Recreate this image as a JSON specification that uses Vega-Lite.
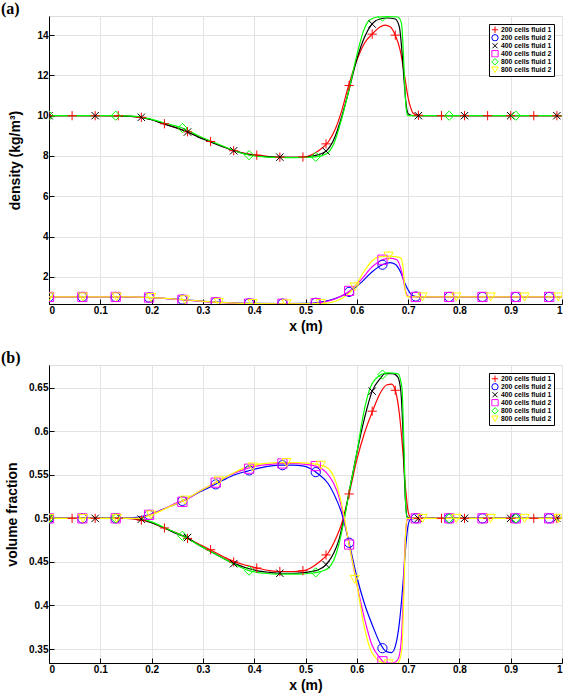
{
"$schema": "https://vega.github.io/schema/vega-lite/v6.json",
"background": "white",
"padding": {"left": 0, "top": 0, "right": 1, "bottom": 0},
"spacing": 61,
"bounds": "flush",
"config": {
 "axis": {"labelFont": "Liberation Sans", "labelFontWeight": "bold", "labelFontSize": 10, "labelColor": "black", "titleFont": "Liberation Sans", "titleFontWeight": "bold", "titleFontSize": 14, "titleColor": "black", "domainColor": "black", "tickColor": "black", "tickSize": -5, "gridColor": "#e3e3e3", "labelPadding": 6},
 "axisX": {"titlePadding": 4},
 "view": {"stroke": "#dddddd"},
 "legend": {"orient": "top-right", "offset": 8, "strokeColor": "black", "fillColor": "white", "padding": 2, "labelFont": "Liberation Sans", "labelFontWeight": "bold", "labelFontSize": 6.8, "labelColor": "black", "symbolSize": 40, "symbolStrokeWidth": 1, "rowPadding": 0, "clipHeight": 7.5, "labelOffset": 2, "cornerRadius": 0},
 "title": {"anchor": "start", "frame": "group", "font": "Liberation Serif", "fontSize": 16, "fontWeight": "bold", "color": "black", "offset": -1, "dx": -48}
},
"resolve": {"scale": {"color": "independent", "shape": "independent"}, "legend": {"color": "independent", "shape": "independent"}},
"datasets": {
"a": [
{"s":"200 cells fluid 1","k":"l","x":0,"y":10},{"s":"200 cells fluid 1","k":"l","x":0.1,"y":10},{"s":"200 cells fluid 1","k":"l","x":0.15,"y":9.98},{"s":"200 cells fluid 1","k":"l","x":0.18,"y":9.92},{"s":"200 cells fluid 1","k":"l","x":0.2,"y":9.8},{"s":"200 cells fluid 1","k":"l","x":0.225,"y":9.6},{"s":"200 cells fluid 1","k":"l","x":0.25,"y":9.38},{"s":"200 cells fluid 1","k":"l","x":0.27,"y":9.2},{"s":"200 cells fluid 1","k":"l","x":0.29,"y":8.98},{"s":"200 cells fluid 1","k":"l","x":0.315,"y":8.72},{"s":"200 cells fluid 1","k":"l","x":0.34,"y":8.46},{"s":"200 cells fluid 1","k":"l","x":0.36,"y":8.26},{"s":"200 cells fluid 1","k":"l","x":0.38,"y":8.14},{"s":"200 cells fluid 1","k":"l","x":0.405,"y":8.04},{"s":"200 cells fluid 1","k":"l","x":0.43,"y":7.97},{"s":"200 cells fluid 1","k":"l","x":0.45,"y":7.94},{"s":"200 cells fluid 1","k":"l","x":0.475,"y":7.93},{"s":"200 cells fluid 1","k":"l","x":0.497,"y":7.95},{"s":"200 cells fluid 1","k":"l","x":0.515,"y":8.1},{"s":"200 cells fluid 1","k":"l","x":0.53,"y":8.35},{"s":"200 cells fluid 1","k":"l","x":0.545,"y":8.72},{"s":"200 cells fluid 1","k":"l","x":0.56,"y":9.45},{"s":"200 cells fluid 1","k":"l","x":0.57,"y":10.2},{"s":"200 cells fluid 1","k":"l","x":0.583,"y":11.4},{"s":"200 cells fluid 1","k":"l","x":0.6,"y":12.75},{"s":"200 cells fluid 1","k":"l","x":0.615,"y":13.6},{"s":"200 cells fluid 1","k":"l","x":0.632,"y":14.1},{"s":"200 cells fluid 1","k":"l","x":0.645,"y":14.4},{"s":"200 cells fluid 1","k":"l","x":0.655,"y":14.5},{"s":"200 cells fluid 1","k":"l","x":0.665,"y":14.42},{"s":"200 cells fluid 1","k":"l","x":0.675,"y":14.0},{"s":"200 cells fluid 1","k":"l","x":0.685,"y":13.2},{"s":"200 cells fluid 1","k":"l","x":0.693,"y":12.0},{"s":"200 cells fluid 1","k":"l","x":0.7,"y":10.9},{"s":"200 cells fluid 1","k":"l","x":0.705,"y":10.4},{"s":"200 cells fluid 1","k":"l","x":0.71,"y":10.12},{"s":"200 cells fluid 1","k":"l","x":0.72,"y":10.02},{"s":"200 cells fluid 1","k":"l","x":0.74,"y":10},{"s":"200 cells fluid 1","k":"l","x":1,"y":10},
{"s":"400 cells fluid 1","k":"l","x":0,"y":10},{"s":"400 cells fluid 1","k":"l","x":0.12,"y":10},{"s":"400 cells fluid 1","k":"l","x":0.16,"y":9.97},{"s":"400 cells fluid 1","k":"l","x":0.18,"y":9.92},{"s":"400 cells fluid 1","k":"l","x":0.2,"y":9.8},{"s":"400 cells fluid 1","k":"l","x":0.225,"y":9.58},{"s":"400 cells fluid 1","k":"l","x":0.25,"y":9.38},{"s":"400 cells fluid 1","k":"l","x":0.27,"y":9.19},{"s":"400 cells fluid 1","k":"l","x":0.29,"y":8.95},{"s":"400 cells fluid 1","k":"l","x":0.315,"y":8.7},{"s":"400 cells fluid 1","k":"l","x":0.34,"y":8.45},{"s":"400 cells fluid 1","k":"l","x":0.362,"y":8.25},{"s":"400 cells fluid 1","k":"l","x":0.38,"y":8.12},{"s":"400 cells fluid 1","k":"l","x":0.405,"y":8.02},{"s":"400 cells fluid 1","k":"l","x":0.43,"y":7.96},{"s":"400 cells fluid 1","k":"l","x":0.45,"y":7.94},{"s":"400 cells fluid 1","k":"l","x":0.475,"y":7.93},{"s":"400 cells fluid 1","k":"l","x":0.5,"y":7.95},{"s":"400 cells fluid 1","k":"l","x":0.52,"y":8.03},{"s":"400 cells fluid 1","k":"l","x":0.54,"y":8.24},{"s":"400 cells fluid 1","k":"l","x":0.555,"y":8.8},{"s":"400 cells fluid 1","k":"l","x":0.57,"y":9.9},{"s":"400 cells fluid 1","k":"l","x":0.583,"y":11.1},{"s":"400 cells fluid 1","k":"l","x":0.6,"y":12.8},{"s":"400 cells fluid 1","k":"l","x":0.615,"y":13.9},{"s":"400 cells fluid 1","k":"l","x":0.628,"y":14.5},{"s":"400 cells fluid 1","k":"l","x":0.645,"y":14.8},{"s":"400 cells fluid 1","k":"l","x":0.66,"y":14.85},{"s":"400 cells fluid 1","k":"l","x":0.675,"y":14.8},{"s":"400 cells fluid 1","k":"l","x":0.683,"y":14.4},{"s":"400 cells fluid 1","k":"l","x":0.688,"y":13.2},{"s":"400 cells fluid 1","k":"l","x":0.692,"y":11.8},{"s":"400 cells fluid 1","k":"l","x":0.696,"y":10.6},{"s":"400 cells fluid 1","k":"l","x":0.7,"y":10.1},{"s":"400 cells fluid 1","k":"l","x":0.71,"y":10},{"s":"400 cells fluid 1","k":"l","x":1,"y":10},
{"s":"800 cells fluid 1","k":"l","x":0,"y":10},{"s":"800 cells fluid 1","k":"l","x":0.13,"y":10},{"s":"800 cells fluid 1","k":"l","x":0.17,"y":9.97},{"s":"800 cells fluid 1","k":"l","x":0.2,"y":9.82},{"s":"800 cells fluid 1","k":"l","x":0.23,"y":9.6},{"s":"800 cells fluid 1","k":"l","x":0.26,"y":9.39},{"s":"800 cells fluid 1","k":"l","x":0.29,"y":9.02},{"s":"800 cells fluid 1","k":"l","x":0.315,"y":8.74},{"s":"800 cells fluid 1","k":"l","x":0.34,"y":8.48},{"s":"800 cells fluid 1","k":"l","x":0.362,"y":8.26},{"s":"800 cells fluid 1","k":"l","x":0.389,"y":8.05},{"s":"800 cells fluid 1","k":"l","x":0.42,"y":7.96},{"s":"800 cells fluid 1","k":"l","x":0.45,"y":7.93},{"s":"800 cells fluid 1","k":"l","x":0.48,"y":7.92},{"s":"800 cells fluid 1","k":"l","x":0.52,"y":7.96},{"s":"800 cells fluid 1","k":"l","x":0.54,"y":8.1},{"s":"800 cells fluid 1","k":"l","x":0.555,"y":8.6},{"s":"800 cells fluid 1","k":"l","x":0.57,"y":9.8},{"s":"800 cells fluid 1","k":"l","x":0.583,"y":11.1},{"s":"800 cells fluid 1","k":"l","x":0.6,"y":13.0},{"s":"800 cells fluid 1","k":"l","x":0.613,"y":14.2},{"s":"800 cells fluid 1","k":"l","x":0.625,"y":14.75},{"s":"800 cells fluid 1","k":"l","x":0.64,"y":14.9},{"s":"800 cells fluid 1","k":"l","x":0.66,"y":14.92},{"s":"800 cells fluid 1","k":"l","x":0.68,"y":14.9},{"s":"800 cells fluid 1","k":"l","x":0.687,"y":14.6},{"s":"800 cells fluid 1","k":"l","x":0.691,"y":13.0},{"s":"800 cells fluid 1","k":"l","x":0.694,"y":11.2},{"s":"800 cells fluid 1","k":"l","x":0.697,"y":10.2},{"s":"800 cells fluid 1","k":"l","x":0.7,"y":10},{"s":"800 cells fluid 1","k":"l","x":1,"y":10},
{"s":"200 cells fluid 2","k":"l","x":0,"y":1},{"s":"200 cells fluid 2","k":"l","x":0.13,"y":1},{"s":"200 cells fluid 2","k":"l","x":0.2,"y":0.97},{"s":"200 cells fluid 2","k":"l","x":0.26,"y":0.87},{"s":"200 cells fluid 2","k":"l","x":0.325,"y":0.74},{"s":"200 cells fluid 2","k":"l","x":0.39,"y":0.68},{"s":"200 cells fluid 2","k":"l","x":0.455,"y":0.67},{"s":"200 cells fluid 2","k":"l","x":0.5,"y":0.68},{"s":"200 cells fluid 2","k":"l","x":0.52,"y":0.71},{"s":"200 cells fluid 2","k":"l","x":0.55,"y":0.86},{"s":"200 cells fluid 2","k":"l","x":0.585,"y":1.25},{"s":"200 cells fluid 2","k":"l","x":0.61,"y":1.75},{"s":"200 cells fluid 2","k":"l","x":0.63,"y":2.25},{"s":"200 cells fluid 2","k":"l","x":0.65,"y":2.6},{"s":"200 cells fluid 2","k":"l","x":0.665,"y":2.7},{"s":"200 cells fluid 2","k":"l","x":0.675,"y":2.62},{"s":"200 cells fluid 2","k":"l","x":0.685,"y":2.25},{"s":"200 cells fluid 2","k":"l","x":0.695,"y":1.6},{"s":"200 cells fluid 2","k":"l","x":0.705,"y":1.15},{"s":"200 cells fluid 2","k":"l","x":0.715,"y":1.02},{"s":"200 cells fluid 2","k":"l","x":0.73,"y":1},{"s":"200 cells fluid 2","k":"l","x":1,"y":1},
{"s":"400 cells fluid 2","k":"l","x":0,"y":1},{"s":"400 cells fluid 2","k":"l","x":0.15,"y":1},{"s":"400 cells fluid 2","k":"l","x":0.2,"y":0.97},{"s":"400 cells fluid 2","k":"l","x":0.26,"y":0.86},{"s":"400 cells fluid 2","k":"l","x":0.325,"y":0.73},{"s":"400 cells fluid 2","k":"l","x":0.39,"y":0.67},{"s":"400 cells fluid 2","k":"l","x":0.455,"y":0.66},{"s":"400 cells fluid 2","k":"l","x":0.51,"y":0.67},{"s":"400 cells fluid 2","k":"l","x":0.54,"y":0.76},{"s":"400 cells fluid 2","k":"l","x":0.57,"y":1.05},{"s":"400 cells fluid 2","k":"l","x":0.586,"y":1.3},{"s":"400 cells fluid 2","k":"l","x":0.61,"y":1.9},{"s":"400 cells fluid 2","k":"l","x":0.63,"y":2.5},{"s":"400 cells fluid 2","k":"l","x":0.65,"y":2.85},{"s":"400 cells fluid 2","k":"l","x":0.665,"y":2.93},{"s":"400 cells fluid 2","k":"l","x":0.678,"y":2.85},{"s":"400 cells fluid 2","k":"l","x":0.688,"y":2.2},{"s":"400 cells fluid 2","k":"l","x":0.695,"y":1.3},{"s":"400 cells fluid 2","k":"l","x":0.7,"y":1.03},{"s":"400 cells fluid 2","k":"l","x":0.71,"y":1},{"s":"400 cells fluid 2","k":"l","x":1,"y":1},
{"s":"800 cells fluid 2","k":"l","x":0,"y":1},{"s":"800 cells fluid 2","k":"l","x":0.16,"y":1},{"s":"800 cells fluid 2","k":"l","x":0.2,"y":0.97},{"s":"800 cells fluid 2","k":"l","x":0.265,"y":0.86},{"s":"800 cells fluid 2","k":"l","x":0.33,"y":0.73},{"s":"800 cells fluid 2","k":"l","x":0.397,"y":0.67},{"s":"800 cells fluid 2","k":"l","x":0.46,"y":0.66},{"s":"800 cells fluid 2","k":"l","x":0.53,"y":0.665},{"s":"800 cells fluid 2","k":"l","x":0.56,"y":0.8},{"s":"800 cells fluid 2","k":"l","x":0.596,"y":1.5},{"s":"800 cells fluid 2","k":"l","x":0.615,"y":2.3},{"s":"800 cells fluid 2","k":"l","x":0.63,"y":2.8},{"s":"800 cells fluid 2","k":"l","x":0.645,"y":3.0},{"s":"800 cells fluid 2","k":"l","x":0.665,"y":3.03},{"s":"800 cells fluid 2","k":"l","x":0.685,"y":2.95},{"s":"800 cells fluid 2","k":"l","x":0.69,"y":2.5},{"s":"800 cells fluid 2","k":"l","x":0.694,"y":1.4},{"s":"800 cells fluid 2","k":"l","x":0.698,"y":1.02},{"s":"800 cells fluid 2","k":"l","x":0.71,"y":1},{"s":"800 cells fluid 2","k":"l","x":1,"y":1},
{"s":"200 cells fluid 1","k":"m","x":0,"y":10},{"s":"200 cells fluid 1","k":"m","x":0.045,"y":10},{"s":"200 cells fluid 1","k":"m","x":0.09,"y":10},{"s":"200 cells fluid 1","k":"m","x":0.135,"y":10},{"s":"200 cells fluid 1","k":"m","x":0.18,"y":9.92},{"s":"200 cells fluid 1","k":"m","x":0.225,"y":9.6},{"s":"200 cells fluid 1","k":"m","x":0.27,"y":9.2},{"s":"200 cells fluid 1","k":"m","x":0.315,"y":8.72},{"s":"200 cells fluid 1","k":"m","x":0.36,"y":8.26},{"s":"200 cells fluid 1","k":"m","x":0.405,"y":8.04},{"s":"200 cells fluid 1","k":"m","x":0.45,"y":7.94},{"s":"200 cells fluid 1","k":"m","x":0.495,"y":7.95},{"s":"200 cells fluid 1","k":"m","x":0.54,"y":8.6},{"s":"200 cells fluid 1","k":"m","x":0.585,"y":11.5},{"s":"200 cells fluid 1","k":"m","x":0.63,"y":14.05},{"s":"200 cells fluid 1","k":"m","x":0.675,"y":14.0},{"s":"200 cells fluid 1","k":"m","x":0.72,"y":10.02},{"s":"200 cells fluid 1","k":"m","x":0.765,"y":10},{"s":"200 cells fluid 1","k":"m","x":0.81,"y":10},{"s":"200 cells fluid 1","k":"m","x":0.855,"y":10},{"s":"200 cells fluid 1","k":"m","x":0.9,"y":10},{"s":"200 cells fluid 1","k":"m","x":0.945,"y":10},{"s":"200 cells fluid 1","k":"m","x":0.99,"y":10},
{"s":"200 cells fluid 2","k":"m","x":0,"y":1},{"s":"200 cells fluid 2","k":"m","x":0.065,"y":1},{"s":"200 cells fluid 2","k":"m","x":0.13,"y":1},{"s":"200 cells fluid 2","k":"m","x":0.195,"y":0.97},{"s":"200 cells fluid 2","k":"m","x":0.26,"y":0.87},{"s":"200 cells fluid 2","k":"m","x":0.325,"y":0.74},{"s":"200 cells fluid 2","k":"m","x":0.39,"y":0.68},{"s":"200 cells fluid 2","k":"m","x":0.455,"y":0.67},{"s":"200 cells fluid 2","k":"m","x":0.52,"y":0.71},{"s":"200 cells fluid 2","k":"m","x":0.585,"y":1.25},{"s":"200 cells fluid 2","k":"m","x":0.65,"y":2.6},{"s":"200 cells fluid 2","k":"m","x":0.715,"y":1.02},{"s":"200 cells fluid 2","k":"m","x":0.78,"y":1},{"s":"200 cells fluid 2","k":"m","x":0.845,"y":1},{"s":"200 cells fluid 2","k":"m","x":0.91,"y":1},{"s":"200 cells fluid 2","k":"m","x":0.975,"y":1},
{"s":"400 cells fluid 1","k":"m","x":0,"y":10},{"s":"400 cells fluid 1","k":"m","x":0.09,"y":10},{"s":"400 cells fluid 1","k":"m","x":0.18,"y":9.92},{"s":"400 cells fluid 1","k":"m","x":0.27,"y":9.19},{"s":"400 cells fluid 1","k":"m","x":0.36,"y":8.26},{"s":"400 cells fluid 1","k":"m","x":0.45,"y":7.94},{"s":"400 cells fluid 1","k":"m","x":0.54,"y":8.24},{"s":"400 cells fluid 1","k":"m","x":0.63,"y":14.55},{"s":"400 cells fluid 1","k":"m","x":0.72,"y":10},{"s":"400 cells fluid 1","k":"m","x":0.81,"y":10},{"s":"400 cells fluid 1","k":"m","x":0.9,"y":10},{"s":"400 cells fluid 1","k":"m","x":0.99,"y":10},
{"s":"400 cells fluid 2","k":"m","x":0,"y":1},{"s":"400 cells fluid 2","k":"m","x":0.065,"y":1},{"s":"400 cells fluid 2","k":"m","x":0.13,"y":1},{"s":"400 cells fluid 2","k":"m","x":0.195,"y":0.97},{"s":"400 cells fluid 2","k":"m","x":0.26,"y":0.86},{"s":"400 cells fluid 2","k":"m","x":0.325,"y":0.73},{"s":"400 cells fluid 2","k":"m","x":0.39,"y":0.67},{"s":"400 cells fluid 2","k":"m","x":0.455,"y":0.66},{"s":"400 cells fluid 2","k":"m","x":0.52,"y":0.69},{"s":"400 cells fluid 2","k":"m","x":0.585,"y":1.3},{"s":"400 cells fluid 2","k":"m","x":0.65,"y":2.85},{"s":"400 cells fluid 2","k":"m","x":0.715,"y":1},{"s":"400 cells fluid 2","k":"m","x":0.78,"y":1},{"s":"400 cells fluid 2","k":"m","x":0.845,"y":1},{"s":"400 cells fluid 2","k":"m","x":0.91,"y":1},{"s":"400 cells fluid 2","k":"m","x":0.975,"y":1},
{"s":"800 cells fluid 1","k":"m","x":0,"y":10},{"s":"800 cells fluid 1","k":"m","x":0.13,"y":10},{"s":"800 cells fluid 1","k":"m","x":0.26,"y":9.39},{"s":"800 cells fluid 1","k":"m","x":0.39,"y":8.04},{"s":"800 cells fluid 1","k":"m","x":0.52,"y":7.96},{"s":"800 cells fluid 1","k":"m","x":0.65,"y":14.92},{"s":"800 cells fluid 1","k":"m","x":0.78,"y":10},{"s":"800 cells fluid 1","k":"m","x":0.91,"y":10},
{"s":"800 cells fluid 2","k":"m","x":0,"y":1},{"s":"800 cells fluid 2","k":"m","x":0.066,"y":1},{"s":"800 cells fluid 2","k":"m","x":0.132,"y":1},{"s":"800 cells fluid 2","k":"m","x":0.199,"y":0.97},{"s":"800 cells fluid 2","k":"m","x":0.265,"y":0.86},{"s":"800 cells fluid 2","k":"m","x":0.331,"y":0.73},{"s":"800 cells fluid 2","k":"m","x":0.397,"y":0.67},{"s":"800 cells fluid 2","k":"m","x":0.463,"y":0.66},{"s":"800 cells fluid 2","k":"m","x":0.53,"y":0.665},{"s":"800 cells fluid 2","k":"m","x":0.596,"y":1.5},{"s":"800 cells fluid 2","k":"m","x":0.662,"y":3.03},{"s":"800 cells fluid 2","k":"m","x":0.728,"y":1},{"s":"800 cells fluid 2","k":"m","x":0.794,"y":1},{"s":"800 cells fluid 2","k":"m","x":0.861,"y":1},{"s":"800 cells fluid 2","k":"m","x":0.927,"y":1},{"s":"800 cells fluid 2","k":"m","x":0.993,"y":1}
],
"b": [
{"s":"200 cells fluid 1","k":"l","x":0,"y":0.5},{"s":"200 cells fluid 1","k":"l","x":0.15,"y":0.5},{"s":"200 cells fluid 1","k":"l","x":0.18,"y":0.498},{"s":"200 cells fluid 1","k":"l","x":0.2,"y":0.495},{"s":"200 cells fluid 1","k":"l","x":0.224,"y":0.489},{"s":"200 cells fluid 1","k":"l","x":0.25,"y":0.483},{"s":"200 cells fluid 1","k":"l","x":0.27,"y":0.477},{"s":"200 cells fluid 1","k":"l","x":0.29,"y":0.471},{"s":"200 cells fluid 1","k":"l","x":0.314,"y":0.464},{"s":"200 cells fluid 1","k":"l","x":0.34,"y":0.456},{"s":"200 cells fluid 1","k":"l","x":0.362,"y":0.45},{"s":"200 cells fluid 1","k":"l","x":0.385,"y":0.446},{"s":"200 cells fluid 1","k":"l","x":0.405,"y":0.443},{"s":"200 cells fluid 1","k":"l","x":0.43,"y":0.44},{"s":"200 cells fluid 1","k":"l","x":0.45,"y":0.439},{"s":"200 cells fluid 1","k":"l","x":0.475,"y":0.439},{"s":"200 cells fluid 1","k":"l","x":0.497,"y":0.44},{"s":"200 cells fluid 1","k":"l","x":0.51,"y":0.443},{"s":"200 cells fluid 1","k":"l","x":0.525,"y":0.449},{"s":"200 cells fluid 1","k":"l","x":0.544,"y":0.46},{"s":"200 cells fluid 1","k":"l","x":0.56,"y":0.478},{"s":"200 cells fluid 1","k":"l","x":0.57,"y":0.493},{"s":"200 cells fluid 1","k":"l","x":0.585,"y":0.528},{"s":"200 cells fluid 1","k":"l","x":0.6,"y":0.567},{"s":"200 cells fluid 1","k":"l","x":0.615,"y":0.598},{"s":"200 cells fluid 1","k":"l","x":0.632,"y":0.625},{"s":"200 cells fluid 1","k":"l","x":0.645,"y":0.643},{"s":"200 cells fluid 1","k":"l","x":0.658,"y":0.653},{"s":"200 cells fluid 1","k":"l","x":0.668,"y":0.654},{"s":"200 cells fluid 1","k":"l","x":0.675,"y":0.647},{"s":"200 cells fluid 1","k":"l","x":0.683,"y":0.62},{"s":"200 cells fluid 1","k":"l","x":0.69,"y":0.575},{"s":"200 cells fluid 1","k":"l","x":0.695,"y":0.535},{"s":"200 cells fluid 1","k":"l","x":0.7,"y":0.508},{"s":"200 cells fluid 1","k":"l","x":0.705,"y":0.501},{"s":"200 cells fluid 1","k":"l","x":0.715,"y":0.5},{"s":"200 cells fluid 1","k":"l","x":1,"y":0.5},
{"s":"400 cells fluid 1","k":"l","x":0,"y":0.5},{"s":"400 cells fluid 1","k":"l","x":0.16,"y":0.5},{"s":"400 cells fluid 1","k":"l","x":0.18,"y":0.499},{"s":"400 cells fluid 1","k":"l","x":0.2,"y":0.495},{"s":"400 cells fluid 1","k":"l","x":0.225,"y":0.489},{"s":"400 cells fluid 1","k":"l","x":0.25,"y":0.482},{"s":"400 cells fluid 1","k":"l","x":0.27,"y":0.478},{"s":"400 cells fluid 1","k":"l","x":0.29,"y":0.47},{"s":"400 cells fluid 1","k":"l","x":0.315,"y":0.462},{"s":"400 cells fluid 1","k":"l","x":0.34,"y":0.454},{"s":"400 cells fluid 1","k":"l","x":0.362,"y":0.448},{"s":"400 cells fluid 1","k":"l","x":0.385,"y":0.443},{"s":"400 cells fluid 1","k":"l","x":0.405,"y":0.44},{"s":"400 cells fluid 1","k":"l","x":0.43,"y":0.438},{"s":"400 cells fluid 1","k":"l","x":0.45,"y":0.437},{"s":"400 cells fluid 1","k":"l","x":0.475,"y":0.437},{"s":"400 cells fluid 1","k":"l","x":0.5,"y":0.438},{"s":"400 cells fluid 1","k":"l","x":0.52,"y":0.44},{"s":"400 cells fluid 1","k":"l","x":0.54,"y":0.447},{"s":"400 cells fluid 1","k":"l","x":0.555,"y":0.46},{"s":"400 cells fluid 1","k":"l","x":0.565,"y":0.475},{"s":"400 cells fluid 1","k":"l","x":0.575,"y":0.5},{"s":"400 cells fluid 1","k":"l","x":0.585,"y":0.53},{"s":"400 cells fluid 1","k":"l","x":0.6,"y":0.575},{"s":"400 cells fluid 1","k":"l","x":0.615,"y":0.615},{"s":"400 cells fluid 1","k":"l","x":0.63,"y":0.646},{"s":"400 cells fluid 1","k":"l","x":0.645,"y":0.66},{"s":"400 cells fluid 1","k":"l","x":0.655,"y":0.666},{"s":"400 cells fluid 1","k":"l","x":0.67,"y":0.666},{"s":"400 cells fluid 1","k":"l","x":0.68,"y":0.662},{"s":"400 cells fluid 1","k":"l","x":0.686,"y":0.645},{"s":"400 cells fluid 1","k":"l","x":0.69,"y":0.6},{"s":"400 cells fluid 1","k":"l","x":0.694,"y":0.53},{"s":"400 cells fluid 1","k":"l","x":0.698,"y":0.502},{"s":"400 cells fluid 1","k":"l","x":0.705,"y":0.5},{"s":"400 cells fluid 1","k":"l","x":1,"y":0.5},
{"s":"800 cells fluid 1","k":"l","x":0,"y":0.5},{"s":"800 cells fluid 1","k":"l","x":0.17,"y":0.5},{"s":"800 cells fluid 1","k":"l","x":0.2,"y":0.496},{"s":"800 cells fluid 1","k":"l","x":0.23,"y":0.488},{"s":"800 cells fluid 1","k":"l","x":0.26,"y":0.48},{"s":"800 cells fluid 1","k":"l","x":0.29,"y":0.47},{"s":"800 cells fluid 1","k":"l","x":0.315,"y":0.462},{"s":"800 cells fluid 1","k":"l","x":0.34,"y":0.454},{"s":"800 cells fluid 1","k":"l","x":0.362,"y":0.447},{"s":"800 cells fluid 1","k":"l","x":0.39,"y":0.44},{"s":"800 cells fluid 1","k":"l","x":0.42,"y":0.437},{"s":"800 cells fluid 1","k":"l","x":0.45,"y":0.436},{"s":"800 cells fluid 1","k":"l","x":0.48,"y":0.436},{"s":"800 cells fluid 1","k":"l","x":0.51,"y":0.437},{"s":"800 cells fluid 1","k":"l","x":0.53,"y":0.439},{"s":"800 cells fluid 1","k":"l","x":0.545,"y":0.443},{"s":"800 cells fluid 1","k":"l","x":0.555,"y":0.452},{"s":"800 cells fluid 1","k":"l","x":0.565,"y":0.47},{"s":"800 cells fluid 1","k":"l","x":0.575,"y":0.497},{"s":"800 cells fluid 1","k":"l","x":0.585,"y":0.53},{"s":"800 cells fluid 1","k":"l","x":0.6,"y":0.575},{"s":"800 cells fluid 1","k":"l","x":0.613,"y":0.62},{"s":"800 cells fluid 1","k":"l","x":0.625,"y":0.648},{"s":"800 cells fluid 1","k":"l","x":0.64,"y":0.662},{"s":"800 cells fluid 1","k":"l","x":0.66,"y":0.667},{"s":"800 cells fluid 1","k":"l","x":0.68,"y":0.666},{"s":"800 cells fluid 1","k":"l","x":0.688,"y":0.65},{"s":"800 cells fluid 1","k":"l","x":0.692,"y":0.58},{"s":"800 cells fluid 1","k":"l","x":0.695,"y":0.52},{"s":"800 cells fluid 1","k":"l","x":0.698,"y":0.5},{"s":"800 cells fluid 1","k":"l","x":1,"y":0.5},
{"s":"200 cells fluid 2","k":"l","x":0,"y":0.5},{"s":"200 cells fluid 2","k":"l","x":0.15,"y":0.5},{"s":"200 cells fluid 2","k":"l","x":0.18,"y":0.502},{"s":"200 cells fluid 2","k":"l","x":0.2,"y":0.505},{"s":"200 cells fluid 2","k":"l","x":0.224,"y":0.511},{"s":"200 cells fluid 2","k":"l","x":0.25,"y":0.517},{"s":"200 cells fluid 2","k":"l","x":0.27,"y":0.523},{"s":"200 cells fluid 2","k":"l","x":0.29,"y":0.529},{"s":"200 cells fluid 2","k":"l","x":0.314,"y":0.536},{"s":"200 cells fluid 2","k":"l","x":0.34,"y":0.544},{"s":"200 cells fluid 2","k":"l","x":0.362,"y":0.55},{"s":"200 cells fluid 2","k":"l","x":0.385,"y":0.554},{"s":"200 cells fluid 2","k":"l","x":0.405,"y":0.557},{"s":"200 cells fluid 2","k":"l","x":0.43,"y":0.56},{"s":"200 cells fluid 2","k":"l","x":0.45,"y":0.561},{"s":"200 cells fluid 2","k":"l","x":0.475,"y":0.561},{"s":"200 cells fluid 2","k":"l","x":0.497,"y":0.56},{"s":"200 cells fluid 2","k":"l","x":0.51,"y":0.557},{"s":"200 cells fluid 2","k":"l","x":0.525,"y":0.551},{"s":"200 cells fluid 2","k":"l","x":0.544,"y":0.54},{"s":"200 cells fluid 2","k":"l","x":0.56,"y":0.522},{"s":"200 cells fluid 2","k":"l","x":0.57,"y":0.507},{"s":"200 cells fluid 2","k":"l","x":0.585,"y":0.472},{"s":"200 cells fluid 2","k":"l","x":0.6,"y":0.433},{"s":"200 cells fluid 2","k":"l","x":0.615,"y":0.402},{"s":"200 cells fluid 2","k":"l","x":0.632,"y":0.375},{"s":"200 cells fluid 2","k":"l","x":0.645,"y":0.357},{"s":"200 cells fluid 2","k":"l","x":0.658,"y":0.347},{"s":"200 cells fluid 2","k":"l","x":0.668,"y":0.346},{"s":"200 cells fluid 2","k":"l","x":0.675,"y":0.353},{"s":"200 cells fluid 2","k":"l","x":0.683,"y":0.38},{"s":"200 cells fluid 2","k":"l","x":0.69,"y":0.425},{"s":"200 cells fluid 2","k":"l","x":0.695,"y":0.465},{"s":"200 cells fluid 2","k":"l","x":0.7,"y":0.492},{"s":"200 cells fluid 2","k":"l","x":0.705,"y":0.499},{"s":"200 cells fluid 2","k":"l","x":0.715,"y":0.5},{"s":"200 cells fluid 2","k":"l","x":1,"y":0.5},
{"s":"400 cells fluid 2","k":"l","x":0,"y":0.5},{"s":"400 cells fluid 2","k":"l","x":0.16,"y":0.5},{"s":"400 cells fluid 2","k":"l","x":0.18,"y":0.501},{"s":"400 cells fluid 2","k":"l","x":0.2,"y":0.505},{"s":"400 cells fluid 2","k":"l","x":0.225,"y":0.511},{"s":"400 cells fluid 2","k":"l","x":0.25,"y":0.518},{"s":"400 cells fluid 2","k":"l","x":0.27,"y":0.522},{"s":"400 cells fluid 2","k":"l","x":0.29,"y":0.53},{"s":"400 cells fluid 2","k":"l","x":0.315,"y":0.538},{"s":"400 cells fluid 2","k":"l","x":0.34,"y":0.546},{"s":"400 cells fluid 2","k":"l","x":0.362,"y":0.552},{"s":"400 cells fluid 2","k":"l","x":0.385,"y":0.557},{"s":"400 cells fluid 2","k":"l","x":0.405,"y":0.56},{"s":"400 cells fluid 2","k":"l","x":0.43,"y":0.562},{"s":"400 cells fluid 2","k":"l","x":0.45,"y":0.563},{"s":"400 cells fluid 2","k":"l","x":0.475,"y":0.563},{"s":"400 cells fluid 2","k":"l","x":0.5,"y":0.562},{"s":"400 cells fluid 2","k":"l","x":0.52,"y":0.56},{"s":"400 cells fluid 2","k":"l","x":0.54,"y":0.553},{"s":"400 cells fluid 2","k":"l","x":0.555,"y":0.54},{"s":"400 cells fluid 2","k":"l","x":0.565,"y":0.525},{"s":"400 cells fluid 2","k":"l","x":0.575,"y":0.5},{"s":"400 cells fluid 2","k":"l","x":0.585,"y":0.47},{"s":"400 cells fluid 2","k":"l","x":0.6,"y":0.425},{"s":"400 cells fluid 2","k":"l","x":0.615,"y":0.385},{"s":"400 cells fluid 2","k":"l","x":0.63,"y":0.354},{"s":"400 cells fluid 2","k":"l","x":0.645,"y":0.34},{"s":"400 cells fluid 2","k":"l","x":0.655,"y":0.334},{"s":"400 cells fluid 2","k":"l","x":0.67,"y":0.334},{"s":"400 cells fluid 2","k":"l","x":0.68,"y":0.338},{"s":"400 cells fluid 2","k":"l","x":0.686,"y":0.355},{"s":"400 cells fluid 2","k":"l","x":0.69,"y":0.4},{"s":"400 cells fluid 2","k":"l","x":0.694,"y":0.47},{"s":"400 cells fluid 2","k":"l","x":0.698,"y":0.498},{"s":"400 cells fluid 2","k":"l","x":0.705,"y":0.5},{"s":"400 cells fluid 2","k":"l","x":1,"y":0.5},
{"s":"800 cells fluid 2","k":"l","x":0,"y":0.5},{"s":"800 cells fluid 2","k":"l","x":0.17,"y":0.5},{"s":"800 cells fluid 2","k":"l","x":0.2,"y":0.504},{"s":"800 cells fluid 2","k":"l","x":0.23,"y":0.512},{"s":"800 cells fluid 2","k":"l","x":0.26,"y":0.52},{"s":"800 cells fluid 2","k":"l","x":0.29,"y":0.53},{"s":"800 cells fluid 2","k":"l","x":0.315,"y":0.538},{"s":"800 cells fluid 2","k":"l","x":0.34,"y":0.546},{"s":"800 cells fluid 2","k":"l","x":0.362,"y":0.553},{"s":"800 cells fluid 2","k":"l","x":0.39,"y":0.56},{"s":"800 cells fluid 2","k":"l","x":0.42,"y":0.563},{"s":"800 cells fluid 2","k":"l","x":0.45,"y":0.564},{"s":"800 cells fluid 2","k":"l","x":0.48,"y":0.564},{"s":"800 cells fluid 2","k":"l","x":0.51,"y":0.563},{"s":"800 cells fluid 2","k":"l","x":0.53,"y":0.561},{"s":"800 cells fluid 2","k":"l","x":0.545,"y":0.557},{"s":"800 cells fluid 2","k":"l","x":0.555,"y":0.548},{"s":"800 cells fluid 2","k":"l","x":0.565,"y":0.53},{"s":"800 cells fluid 2","k":"l","x":0.575,"y":0.503},{"s":"800 cells fluid 2","k":"l","x":0.585,"y":0.47},{"s":"800 cells fluid 2","k":"l","x":0.6,"y":0.425},{"s":"800 cells fluid 2","k":"l","x":0.613,"y":0.38},{"s":"800 cells fluid 2","k":"l","x":0.625,"y":0.352},{"s":"800 cells fluid 2","k":"l","x":0.64,"y":0.338},{"s":"800 cells fluid 2","k":"l","x":0.66,"y":0.333},{"s":"800 cells fluid 2","k":"l","x":0.68,"y":0.334},{"s":"800 cells fluid 2","k":"l","x":0.688,"y":0.35},{"s":"800 cells fluid 2","k":"l","x":0.692,"y":0.42},{"s":"800 cells fluid 2","k":"l","x":0.695,"y":0.48},{"s":"800 cells fluid 2","k":"l","x":0.698,"y":0.5},{"s":"800 cells fluid 2","k":"l","x":1,"y":0.5},
{"s":"200 cells fluid 1","k":"m","x":0,"y":0.5},{"s":"200 cells fluid 1","k":"m","x":0.045,"y":0.5},{"s":"200 cells fluid 1","k":"m","x":0.09,"y":0.5},{"s":"200 cells fluid 1","k":"m","x":0.135,"y":0.5},{"s":"200 cells fluid 1","k":"m","x":0.18,"y":0.498},{"s":"200 cells fluid 1","k":"m","x":0.225,"y":0.489},{"s":"200 cells fluid 1","k":"m","x":0.27,"y":0.477},{"s":"200 cells fluid 1","k":"m","x":0.315,"y":0.464},{"s":"200 cells fluid 1","k":"m","x":0.36,"y":0.45},{"s":"200 cells fluid 1","k":"m","x":0.405,"y":0.443},{"s":"200 cells fluid 1","k":"m","x":0.45,"y":0.439},{"s":"200 cells fluid 1","k":"m","x":0.495,"y":0.44},{"s":"200 cells fluid 1","k":"m","x":0.54,"y":0.458},{"s":"200 cells fluid 1","k":"m","x":0.585,"y":0.528},{"s":"200 cells fluid 1","k":"m","x":0.63,"y":0.623},{"s":"200 cells fluid 1","k":"m","x":0.675,"y":0.647},{"s":"200 cells fluid 1","k":"m","x":0.72,"y":0.5},{"s":"200 cells fluid 1","k":"m","x":0.765,"y":0.5},{"s":"200 cells fluid 1","k":"m","x":0.81,"y":0.5},{"s":"200 cells fluid 1","k":"m","x":0.855,"y":0.5},{"s":"200 cells fluid 1","k":"m","x":0.9,"y":0.5},{"s":"200 cells fluid 1","k":"m","x":0.945,"y":0.5},{"s":"200 cells fluid 1","k":"m","x":0.99,"y":0.5},
{"s":"200 cells fluid 2","k":"m","x":0,"y":0.5},{"s":"200 cells fluid 2","k":"m","x":0.065,"y":0.5},{"s":"200 cells fluid 2","k":"m","x":0.13,"y":0.5},{"s":"200 cells fluid 2","k":"m","x":0.195,"y":0.504},{"s":"200 cells fluid 2","k":"m","x":0.26,"y":0.52},{"s":"200 cells fluid 2","k":"m","x":0.325,"y":0.539},{"s":"200 cells fluid 2","k":"m","x":0.39,"y":0.555},{"s":"200 cells fluid 2","k":"m","x":0.455,"y":0.561},{"s":"200 cells fluid 2","k":"m","x":0.52,"y":0.553},{"s":"200 cells fluid 2","k":"m","x":0.585,"y":0.472},{"s":"200 cells fluid 2","k":"m","x":0.65,"y":0.351},{"s":"200 cells fluid 2","k":"m","x":0.715,"y":0.5},{"s":"200 cells fluid 2","k":"m","x":0.78,"y":0.5},{"s":"200 cells fluid 2","k":"m","x":0.845,"y":0.5},{"s":"200 cells fluid 2","k":"m","x":0.91,"y":0.5},{"s":"200 cells fluid 2","k":"m","x":0.975,"y":0.5},
{"s":"400 cells fluid 1","k":"m","x":0,"y":0.5},{"s":"400 cells fluid 1","k":"m","x":0.09,"y":0.5},{"s":"400 cells fluid 1","k":"m","x":0.18,"y":0.499},{"s":"400 cells fluid 1","k":"m","x":0.27,"y":0.478},{"s":"400 cells fluid 1","k":"m","x":0.36,"y":0.448},{"s":"400 cells fluid 1","k":"m","x":0.45,"y":0.437},{"s":"400 cells fluid 1","k":"m","x":0.54,"y":0.447},{"s":"400 cells fluid 1","k":"m","x":0.63,"y":0.646},{"s":"400 cells fluid 1","k":"m","x":0.72,"y":0.5},{"s":"400 cells fluid 1","k":"m","x":0.81,"y":0.5},{"s":"400 cells fluid 1","k":"m","x":0.9,"y":0.5},{"s":"400 cells fluid 1","k":"m","x":0.99,"y":0.5},
{"s":"400 cells fluid 2","k":"m","x":0,"y":0.5},{"s":"400 cells fluid 2","k":"m","x":0.065,"y":0.5},{"s":"400 cells fluid 2","k":"m","x":0.13,"y":0.5},{"s":"400 cells fluid 2","k":"m","x":0.195,"y":0.504},{"s":"400 cells fluid 2","k":"m","x":0.26,"y":0.519},{"s":"400 cells fluid 2","k":"m","x":0.325,"y":0.541},{"s":"400 cells fluid 2","k":"m","x":0.39,"y":0.557},{"s":"400 cells fluid 2","k":"m","x":0.455,"y":0.563},{"s":"400 cells fluid 2","k":"m","x":0.52,"y":0.56},{"s":"400 cells fluid 2","k":"m","x":0.585,"y":0.47},{"s":"400 cells fluid 2","k":"m","x":0.65,"y":0.336},{"s":"400 cells fluid 2","k":"m","x":0.715,"y":0.5},{"s":"400 cells fluid 2","k":"m","x":0.78,"y":0.5},{"s":"400 cells fluid 2","k":"m","x":0.845,"y":0.5},{"s":"400 cells fluid 2","k":"m","x":0.91,"y":0.5},{"s":"400 cells fluid 2","k":"m","x":0.975,"y":0.5},
{"s":"800 cells fluid 1","k":"m","x":0,"y":0.5},{"s":"800 cells fluid 1","k":"m","x":0.13,"y":0.5},{"s":"800 cells fluid 1","k":"m","x":0.26,"y":0.48},{"s":"800 cells fluid 1","k":"m","x":0.39,"y":0.44},{"s":"800 cells fluid 1","k":"m","x":0.52,"y":0.438},{"s":"800 cells fluid 1","k":"m","x":0.65,"y":0.665},{"s":"800 cells fluid 1","k":"m","x":0.78,"y":0.5},{"s":"800 cells fluid 1","k":"m","x":0.91,"y":0.5},
{"s":"800 cells fluid 2","k":"m","x":0,"y":0.5},{"s":"800 cells fluid 2","k":"m","x":0.066,"y":0.5},{"s":"800 cells fluid 2","k":"m","x":0.132,"y":0.5},{"s":"800 cells fluid 2","k":"m","x":0.199,"y":0.504},{"s":"800 cells fluid 2","k":"m","x":0.265,"y":0.521},{"s":"800 cells fluid 2","k":"m","x":0.331,"y":0.543},{"s":"800 cells fluid 2","k":"m","x":0.397,"y":0.559},{"s":"800 cells fluid 2","k":"m","x":0.463,"y":0.564},{"s":"800 cells fluid 2","k":"m","x":0.53,"y":0.561},{"s":"800 cells fluid 2","k":"m","x":0.596,"y":0.43},{"s":"800 cells fluid 2","k":"m","x":0.662,"y":0.333},{"s":"800 cells fluid 2","k":"m","x":0.728,"y":0.5},{"s":"800 cells fluid 2","k":"m","x":0.794,"y":0.5},{"s":"800 cells fluid 2","k":"m","x":0.861,"y":0.5},{"s":"800 cells fluid 2","k":"m","x":0.927,"y":0.5},{"s":"800 cells fluid 2","k":"m","x":0.993,"y":0.5}
]
},
"vconcat": [
{
 "width": 513, "height": 288,
 "title": {"text": "(a)"},
 "data": {"name": "a"},
 "layer": [
  {"transform": [{"filter": "datum.k == 'l'"}],
   "mark": {"type": "line", "strokeWidth": 1.2, "interpolate": "monotone", "clip": true},
   "encoding": {
    "x": {"field": "x", "type": "quantitative", "scale": {"domain": [0, 1], "nice": false}, "axis": {"values": [0,0.1,0.2,0.3,0.4,0.5,0.6,0.7,0.8,0.9,1], "format": "~g", "title": "x (m)"}},
    "y": {"field": "y", "type": "quantitative", "scale": {"domain": [0.65, 14.95], "nice": false, "zero": false}, "axis": {"values": [2,4,6,8,10,12,14], "title": "density (kg/m³)", "titlePadding": 14}},
    "color": {"field": "s", "type": "nominal", "scale": {"domain": ["200 cells fluid 1","200 cells fluid 2","400 cells fluid 1","400 cells fluid 2","800 cells fluid 1","800 cells fluid 2"], "range": ["#ff0000","#0000ff","#000000","#ff00ff","#00ff00","#ffff00"]}, "legend": {"title": null, "symbolSize": 40, "encode": {"symbols": {"update": {"size": {"value": 40}}}}}}
   }},
  {"transform": [{"filter": "datum.k == 'm'"}],
   "mark": {"type": "point", "filled": false, "size": 85, "strokeWidth": 1, "opacity": 1, "clip": true},
   "encoding": {
    "x": {"field": "x", "type": "quantitative"},
    "y": {"field": "y", "type": "quantitative"},
    "color": {"field": "s", "type": "nominal", "legend": {"title": null, "symbolSize": 40, "encode": {"symbols": {"update": {"size": {"value": 40}}}}}},
    "shape": {"field": "s", "type": "nominal", "scale": {"domain": ["200 cells fluid 1","200 cells fluid 2","400 cells fluid 1","400 cells fluid 2","800 cells fluid 1","800 cells fluid 2"], "range": ["M-1,0H1M0,-1V1","circle","M-0.8,-0.8L0.8,0.8M-0.8,0.8L0.8,-0.8","square","diamond","triangle-down"]}, "legend": {"title": null, "symbolSize": 40, "encode": {"symbols": {"update": {"size": {"value": 40}}}}}}
   }}
 ]
},
{
 "width": 513, "height": 298,
 "title": {"text": "(b)"},
 "data": {"name": "b"},
 "layer": [
  {"transform": [{"filter": "datum.k == 'l'"}],
   "mark": {"type": "line", "strokeWidth": 1.2, "interpolate": "monotone", "clip": true},
   "encoding": {
    "x": {"field": "x", "type": "quantitative", "scale": {"domain": [0, 1], "nice": false}, "axis": {"values": [0,0.1,0.2,0.3,0.4,0.5,0.6,0.7,0.8,0.9,1], "format": "~g", "title": "x (m)"}},
    "y": {"field": "y", "type": "quantitative", "scale": {"domain": [0.334, 0.676], "nice": false, "zero": false}, "axis": {"values": [0.35,0.4,0.45,0.5,0.55,0.6,0.65], "format": "~g", "title": "volume fraction", "titlePadding": 9}},
    "color": {"field": "s", "type": "nominal", "scale": {"domain": ["200 cells fluid 1","200 cells fluid 2","400 cells fluid 1","400 cells fluid 2","800 cells fluid 1","800 cells fluid 2"], "range": ["#ff0000","#0000ff","#000000","#ff00ff","#00ff00","#ffff00"]}, "legend": {"title": null, "symbolSize": 40, "encode": {"symbols": {"update": {"size": {"value": 40}}}}}}
   }},
  {"transform": [{"filter": "datum.k == 'm'"}],
   "mark": {"type": "point", "filled": false, "size": 85, "strokeWidth": 1, "opacity": 1, "clip": true},
   "encoding": {
    "x": {"field": "x", "type": "quantitative"},
    "y": {"field": "y", "type": "quantitative"},
    "color": {"field": "s", "type": "nominal", "legend": {"title": null, "symbolSize": 40, "encode": {"symbols": {"update": {"size": {"value": 40}}}}}},
    "shape": {"field": "s", "type": "nominal", "scale": {"domain": ["200 cells fluid 1","200 cells fluid 2","400 cells fluid 1","400 cells fluid 2","800 cells fluid 1","800 cells fluid 2"], "range": ["M-1,0H1M0,-1V1","circle","M-0.8,-0.8L0.8,0.8M-0.8,0.8L0.8,-0.8","square","diamond","triangle-down"]}, "legend": {"title": null, "symbolSize": 40, "encode": {"symbols": {"update": {"size": {"value": 40}}}}}}
   }}
 ]
}
]
}
